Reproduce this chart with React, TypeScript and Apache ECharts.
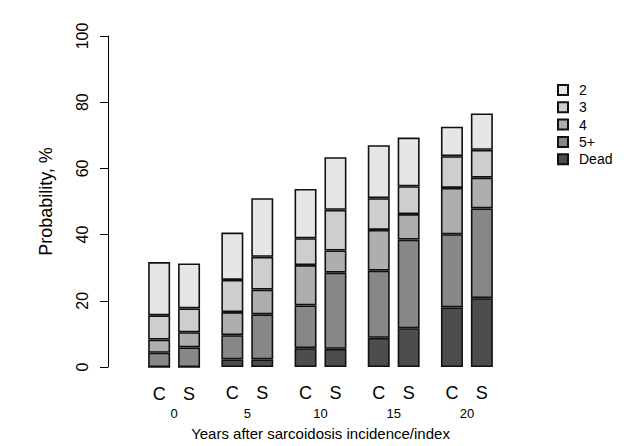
import React, { useEffect, useRef } from "react";
import * as echarts from "echarts";

const years = ["0", "5", "10", "15", "20"];
const stateNames = ["Dead", "5+", "4", "3", "2"];
const legendOrder = ["2", "3", "4", "5+", "Dead"];
const stateColors = ["#4d4d4d", "#878787", "#aeaeae", "#cecece", "#e6e6e6"];

// Segment heights (%) per year, control group (C)
const cDead = [0, 2.3, 5.7, 8.8, 18.0];
const c5plus = [4.3, 7.3, 12.9, 20.3, 22.1];
const c4 = [4.0, 7.0, 12.2, 12.3, 14.0];
const c3 = [7.3, 9.7, 8.1, 9.6, 9.6];
const c2 = [16.1, 14.3, 14.9, 16.0, 8.9];

// Segment heights (%) per year, sarcoidosis group (S)
const sDead = [0, 2.3, 5.5, 11.7, 20.8];
const s5plus = [5.9, 13.6, 23.0, 26.8, 27.1];
const s4 = [4.6, 7.5, 6.7, 7.7, 9.3];
const s3 = [7.2, 9.9, 12.3, 8.4, 8.4];
const s2 = [13.6, 17.7, 15.9, 14.7, 11.0];

const yTicks = [0, 20, 40, 60, 80, 100];

const FONT = "'Liberation Sans', Arial, Helvetica, sans-serif";

export default function App() {
  const ref = useRef<HTMLDivElement>(null);

  useEffect(() => {
    if (!ref.current) return;
    const chart = echarts.init(ref.current, undefined, { renderer: "svg" });

    const cGroups = [cDead, c5plus, c4, c3, c2];
    const sGroups = [sDead, s5plus, s4, s3, s2];

    const series: any[] = [];
    ["C", "S"].forEach((grp) => {
      const groups = grp === "C" ? cGroups : sGroups;
      groups.forEach((vals, k) => {
        series.push({
          type: "bar",
          name: stateNames[k],
          stack: grp,
          data: vals,
          barWidth: 22,
          barGap: "36%",
          itemStyle: {
            color: stateColors[k],
            borderColor: "#111",
            borderWidth: 1.6,
          },
          label:
            k === 0
              ? {
                  show: true,
                  position: "bottom",
                  distance: 17,
                  formatter: grp,
                  color: "#000",
                  fontSize: 18,
                  fontFamily: FONT,
                }
              : { show: false },
          emphasis: { disabled: true },
        });
      });
    });

    chart.setOption({
      animation: false,
      textStyle: { fontFamily: FONT },
      grid: { left: 137.5, right: 138.5, top: 36, bottom: 74, containLabel: false },
      legend: {
        data: legendOrder,
        orient: "vertical",
        left: 552,
        top: 78,
        itemWidth: 10,
        itemHeight: 10,
        itemGap: 3.3,
        icon: "rect",
        selectedMode: false,
        textStyle: { fontSize: 14, color: "#000", fontFamily: FONT, padding: [0, 0, 0, 6] },
      },
      xAxis: {
        type: "category",
        data: years,
        axisLine: { show: false },
        axisTick: { show: false },
        axisLabel: { margin: 40, fontSize: 13, color: "#000", fontFamily: FONT },
        name: "Years after sarcoidosis incidence/index",
        nameLocation: "middle",
        nameGap: 59,
        nameTextStyle: { fontSize: 15, color: "#000", fontFamily: FONT },
      },
      yAxis: {
        type: "value",
        min: yTicks[0],
        max: yTicks[yTicks.length - 1],
        interval: 20,
        offset: 29.5,
        splitLine: { show: false },
        axisLine: { show: true, lineStyle: { color: "#000", width: 1 } },
        axisTick: { show: true, length: 8, lineStyle: { color: "#000" } },
        axisLabel: { rotate: 90, margin: 18, fontSize: 16, color: "#000", fontFamily: FONT },
        name: "Probability, %",
        nameLocation: "middle",
        nameGap: 53,
        nameTextStyle: { fontSize: 18, color: "#000", fontFamily: FONT },
      },
      series,
    });

    return () => chart.dispose();
  }, []);

  return (
    <div
      ref={ref}
      style={{ position: "fixed", left: 0, top: 0, width: 642, height: 446, background: "#fff" }}
    />
  );
}
